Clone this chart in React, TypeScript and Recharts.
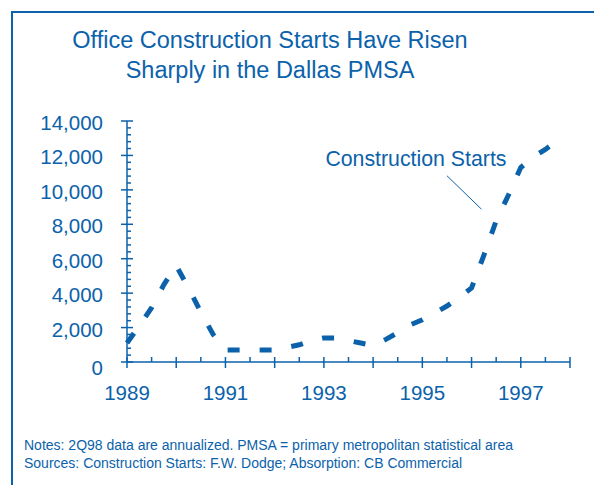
import React from "react";
import {
  LineChart,
  Line,
  XAxis,
  YAxis,
  ReferenceLine,
  ReferenceDot
} from "recharts";

// quarterly readings, office construction starts (thousand sq ft)
const periods = [
  1989.0, 1989.25, 1989.5, 1989.75,
  1990.0, 1990.25, 1990.5, 1990.75,
  1991.0, 1991.25, 1991.5, 1991.75,
  1992.0, 1992.25, 1992.5, 1992.75,
  1993.0, 1993.25, 1993.5, 1993.75,
  1994.0, 1994.25, 1994.5, 1994.75,
  1995.0, 1995.25, 1995.5, 1995.75,
  1996.0, 1996.25, 1996.5, 1996.75,
  1997.0, 1997.25, 1997.5, 1997.75
];
const starts = [
  1100, 2100, 3150, 4500,
  5600, 4300, 2900, 1600,
  700, 700, 700, 700,
  700, 850, 1000, 1250,
  1400, 1400, 1250, 1100,
  950, 1300, 1700, 2150,
  2450, 2850, 3250, 3750,
  4300, 6200, 8200, 9700,
  11300, 11900, 12350, 12900
];

const yearTicks = [
  1989, 1989.5, 1990, 1990.5, 1991, 1991.5, 1992, 1992.5, 1993, 1993.5,
  1994, 1994.5, 1995, 1995.5, 1996, 1996.5, 1997, 1997.5, 1998
];
const yearLabels = [1989, 1991, 1993, 1995, 1997];
const valueTicks = Array.from({ length: 36 }, (_, i) => i * 400);
const valueLabels = [0, 2000, 4000, 6000, 8000, 10000, 12000, 14000];

const title = ["Office Construction Starts Have Risen", "Sharply in the Dallas PMSA"];
const notes = [
  "Notes: 2Q98 data are annualized. PMSA = primary metropolitan statistical area",
  "Sources: Construction Starts: F.W. Dodge; Absorption: CB Commercial"
];

const BLUE = "#0b62ab";
const FONT = "'Liberation Sans', Arial, sans-serif";

const data = periods.map((p, i) => ({ t: p, starts: starts[i] }));

const XTick = (props: any) => {
  const { x, y, payload } = props;
  const v = payload.value;
  const major = Number.isInteger(v);
  return (
    <g>
      <line x1={x} x2={x} y1={y - 5} y2={major ? y + 6 : y} stroke={BLUE} strokeWidth={1.5} />
      {yearLabels.includes(v) && (
        <text x={x} y={y + 38} textAnchor="middle" fill={BLUE} fontSize={20.5} fontFamily={FONT}>
          {v}
        </text>
      )}
    </g>
  );
};

const YTick = (props: any) => {
  const { x, y, payload } = props;
  const v = payload.value;
  const major = valueLabels.includes(v);
  return (
    <g>
      <line x1={major ? x - 6 : x} x2={major ? x + 6 : x + 4} y1={y} y2={y} stroke={BLUE} strokeWidth={1.5} />
      {major && (
        <text x={x - 24} y={y + (v === 0 ? 13 : 9)} textAnchor="end" fill={BLUE} fontSize={20.5} fontFamily={FONT}>
          {v.toLocaleString("en-US")}
        </text>
      )}
    </g>
  );
};

export default function App() {
  return (
    <div style={{ position: "absolute", left: 0, top: 0, width: 594, height: 485, background: "#fff", overflow: "hidden", fontFamily: FONT }}>
      <div style={{ position: "absolute", left: 11, top: 11, width: 640, height: 520, borderLeft: `2px solid ${BLUE}`, borderTop: `2px solid ${BLUE}` }} />
      <div style={{ position: "absolute", left: 0, top: 25, width: 540, textAlign: "center", color: BLUE, fontSize: 23.5, lineHeight: "30px" }}>
        {title.map((t) => (
          <div key={t}>{t}</div>
        ))}
      </div>
      <div style={{ position: "absolute", left: 24, top: 436, color: BLUE, fontSize: 14, lineHeight: "18px", whiteSpace: "nowrap" }}>
        {notes.map((t) => (
          <div key={t}>{t}</div>
        ))}
      </div>
      <div style={{ position: "absolute", left: 0, top: 0 }}>
        <LineChart width={594} height={485} data={data} margin={{ top: 121, right: 24, left: 0, bottom: 93 }}>
          <XAxis
            dataKey="t"
            type="number"
            domain={[1989, 1998]}
            ticks={yearTicks}
            interval={0}
            tick={<XTick />}
            tickLine={false}
            tickSize={0}
            tickMargin={0}
            height={30}
            axisLine={{ stroke: BLUE, strokeWidth: 1.5 }}
          />
          <YAxis
            type="number"
            domain={[0, 14000]}
            ticks={valueTicks}
            interval={0}
            tick={<YTick />}
            tickLine={false}
            tickSize={0}
            tickMargin={0}
            width={127}
            axisLine={{ stroke: BLUE, strokeWidth: 1.5 }}
          />
          <Line
            type="linear"
            dataKey="starts"
            stroke={BLUE}
            strokeWidth={5}
            strokeDasharray="12 20"
            dot={false}
            activeDot={false}
            isAnimationActive={false}
          />
          <ReferenceLine
            segment={[{ x: 1995.5, y: 10820 }, { x: 1996.2, y: 8880 }]}
            stroke={BLUE}
            strokeWidth={1}
          />
          <ReferenceDot
            x={1994.87}
            y={11800}
            r={0}
            fill="none"
            stroke="none"
            label={{ value: "Construction Starts", position: "center", fill: BLUE, fontSize: 21.3, fontFamily: FONT }}
          />
        </LineChart>
      </div>
    </div>
  );
}
